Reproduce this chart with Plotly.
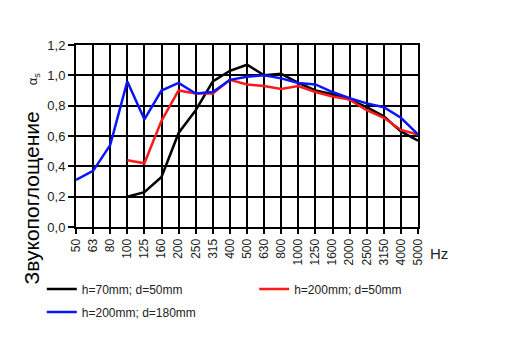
import plotly.graph_objects as go

freqs = ["50", "63", "80", "100", "125", "160", "200", "250", "315", "400", "500",
         "630", "800", "1000", "1250", "1600", "2000", "2500", "3150", "4000", "5000"]

black_vals = [None, None, None, 0.20, 0.23, 0.33, 0.62, 0.77, 0.96, 1.03, 1.07,
              1.00, 1.01, 0.95, 0.90, 0.875, 0.84, 0.79, 0.73, 0.63, 0.57]
red_vals = [None, None, None, 0.44, 0.42, 0.70, 0.90, 0.88, 0.88, 0.97, 0.94,
            0.93, 0.91, 0.93, 0.89, 0.86, 0.84, 0.77, 0.72, 0.64, 0.61]
blue_vals = [0.31, 0.37, 0.54, 0.96, 0.71, 0.90, 0.95, 0.88, 0.89, 0.97, 0.99,
             1.00, 0.98, 0.95, 0.94, 0.89, 0.85, 0.815, 0.79, 0.72, 0.61]

names = ["h=70mm; d=50mm", "h=200mm; d=50mm", "h=200mm; d=180mm"]
y_ticks = [0.0, 0.2, 0.4, 0.6, 0.8, 1.0, 1.2]
y_tick_text = ["0,0", "0,2", "0,4", "0,6", "0,8", "1,0", "1,2"]

xpos = list(range(len(freqs)))

fig = go.Figure()
fig.add_trace(go.Scatter(x=xpos, y=black_vals, mode="lines", name=names[0],
                         line=dict(color="#000000", width=2.5), legend="legend"))
fig.add_trace(go.Scatter(x=xpos, y=red_vals, mode="lines", name=names[1],
                         line=dict(color="#ff1a1a", width=2.5), legend="legend2"))
fig.add_trace(go.Scatter(x=xpos, y=blue_vals, mode="lines", name=names[2],
                         line=dict(color="#0a14ff", width=2.5), legend="legend3"))

leg_common = dict(orientation="h", xanchor="left", yanchor="middle",
                  font=dict(size=12, color="#222222"), bgcolor="rgba(0,0,0,0)",
                  itemwidth=30)

fig.update_layout(
    width=509, height=363,
    margin=dict(l=68, r=99, t=37, b=144, autoexpand=False),
    paper_bgcolor="white", plot_bgcolor="white",
    font=dict(family="Arial, Liberation Sans", color="#222222", size=12),
    showlegend=True,
    legend=dict(x=-0.10, y=-0.341, **leg_common),
    legend2=dict(x=0.521, y=-0.341, **leg_common),
    legend3=dict(x=-0.10, y=-0.467, **leg_common),
    xaxis=dict(range=[0, 20], tickvals=xpos, ticktext=freqs, tickangle=-90,
               showgrid=True, gridcolor="#000000", gridwidth=2,
               showline=True, linecolor="#000000", linewidth=2, mirror=True,
               ticks="outside", ticklen=5, tickcolor="#000000", tickwidth=2,
               tickfont=dict(size=12), zeroline=False, fixedrange=True),
    yaxis=dict(range=[0, 1.2], tickvals=y_ticks, ticktext=y_tick_text,
               showgrid=True, gridcolor="#000000", gridwidth=2,
               showline=True, linecolor="#000000", linewidth=2, mirror=True,
               ticks="outside", ticklen=6, tickcolor="#000000", tickwidth=2,
               tickfont=dict(size=13), zeroline=False),
)

fig.add_annotation(text="Звукопоглощение", textangle=-90, xref="paper", yref="paper",
                   x=-0.129, y=0.162, xanchor="center", yanchor="middle", showarrow=False,
                   font=dict(size=21, color="#000000", family="Arial, Liberation Sans"))
fig.add_annotation(text="α<sub>s</sub>", textangle=-90, xref="paper", yref="paper",
                   x=-0.125, y=0.813, xanchor="center", yanchor="middle", showarrow=False,
                   font=dict(size=13, color="#222222"))
fig.add_annotation(text="Hz", xref="paper", yref="paper",
                   x=1.029, y=-0.143, xanchor="left", yanchor="middle", showarrow=False,
                   font=dict(size=15, color="#222222"))

fig.write_html("out.html")
